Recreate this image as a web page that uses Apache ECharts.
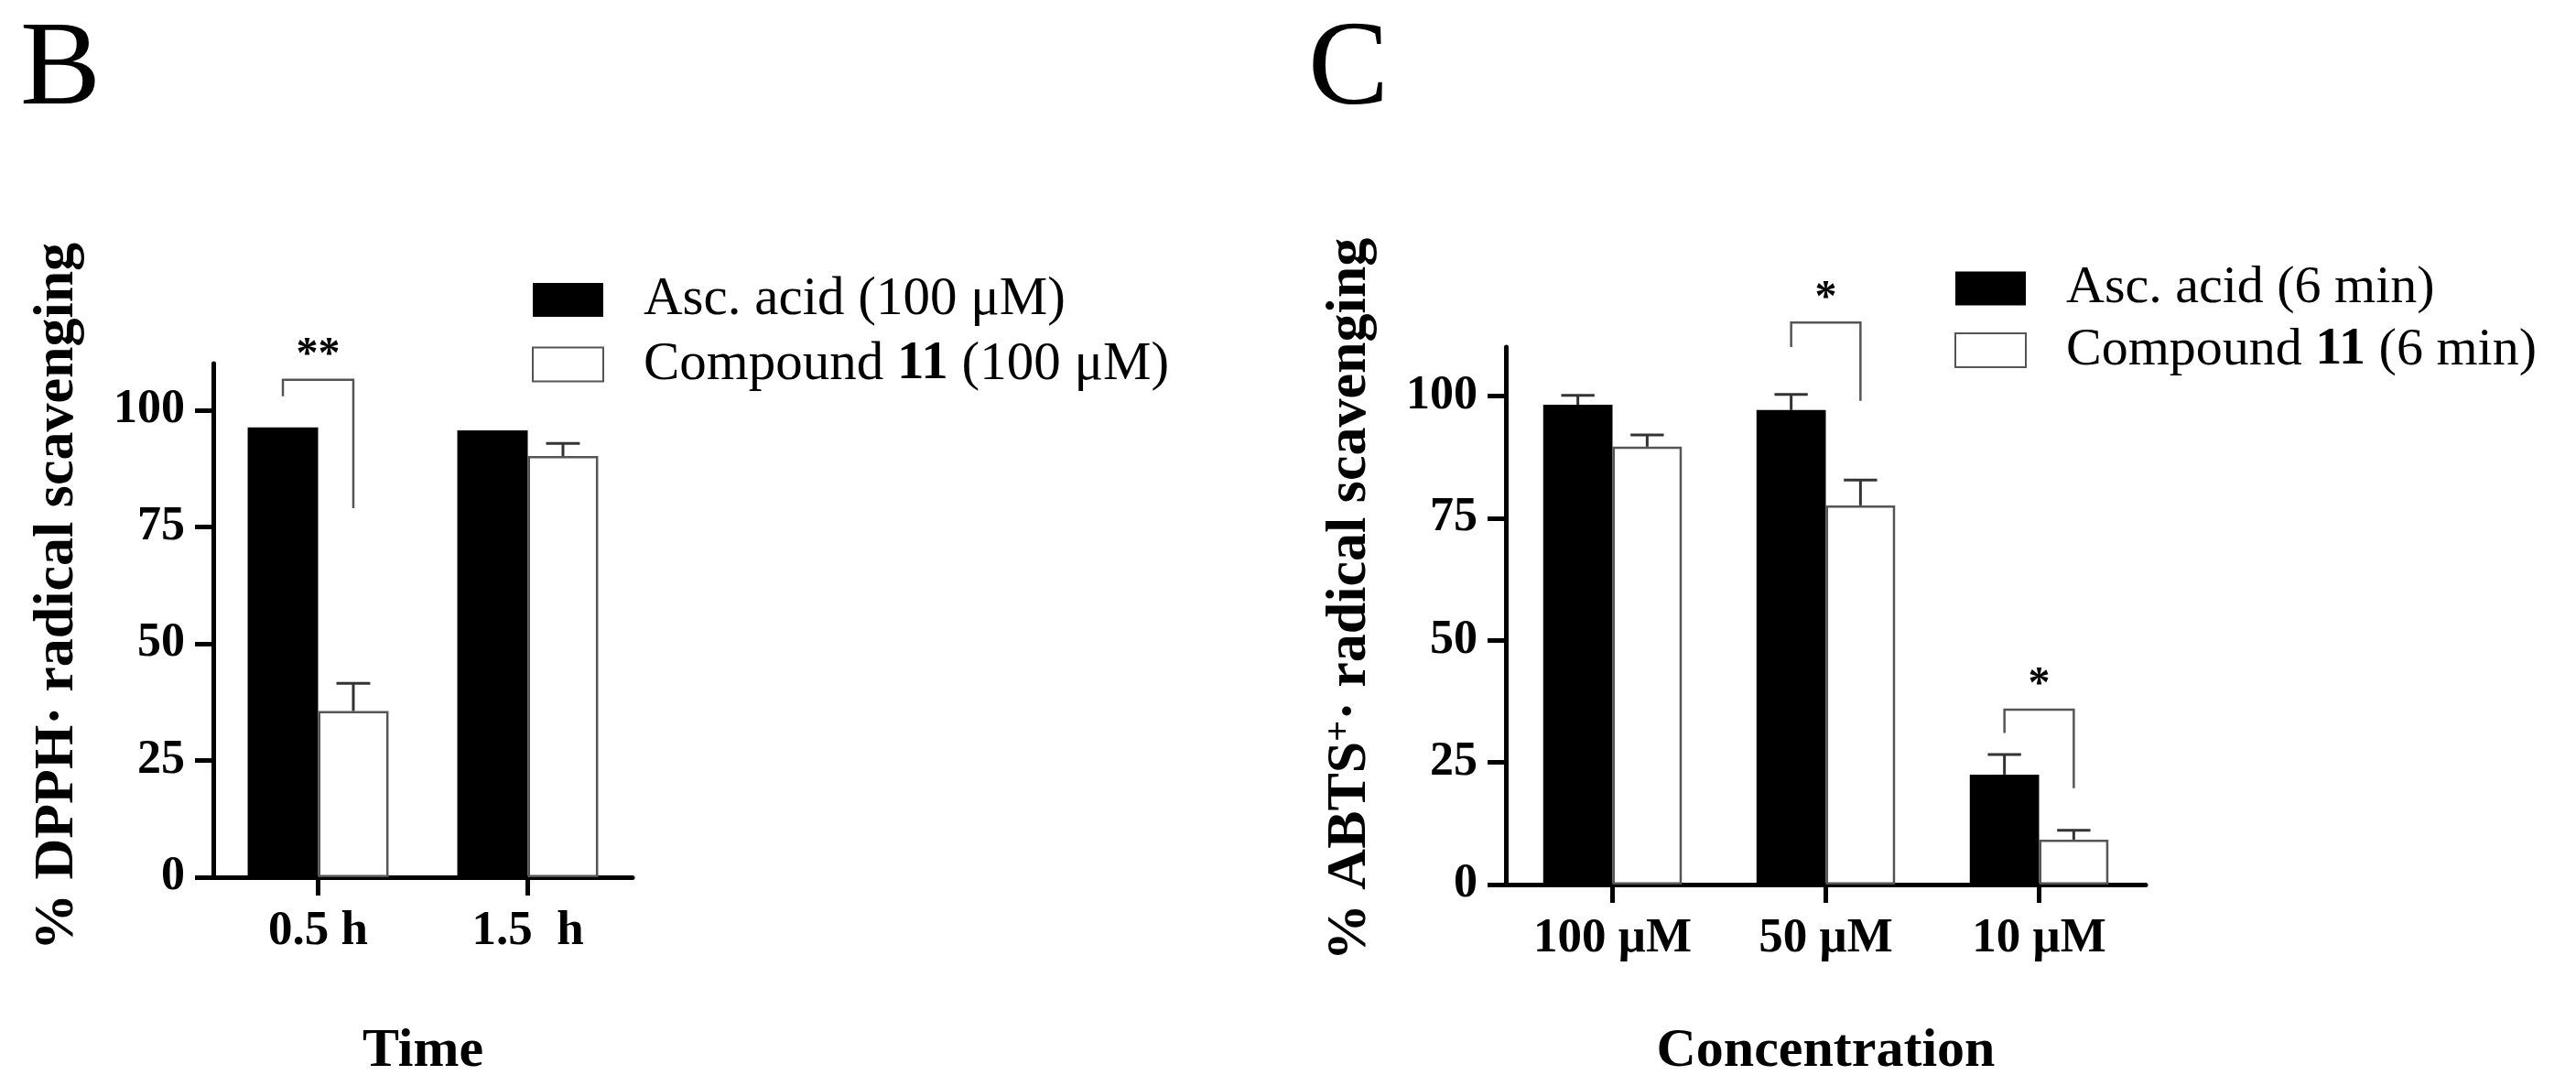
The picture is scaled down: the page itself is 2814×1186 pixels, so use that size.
<!DOCTYPE html>
<html lang="en">

<head>
  <meta charset="UTF-8">
  <meta name="viewport" content="width=device-width, initial-scale=1.0">
  <title>DPPH and ABTS radical scavenging</title>
  <script src="https://cdn.jsdelivr.net/npm/echarts@6.0.0/dist/echarts.min.js"></script>
</head>

<body style="margin: 0;padding: 0;">
  <div id="main" style="width: 100vw;height: 100vh;"></div>
  <script>
    // panel B: DPPH
    var catsB = ['0.5 h', '1.5  h'];
    var namesB = ['Asc. acid (100 μM)', 'Compound 11 (100 μM)'];
    var ascB = [96.3, 95.7];
    var ascBErr = [0, 0];
    var cmpB = [35.6, 90.2];
    var cmpBErr = [5.9, 2.7];
    // [category, bracket top, left leg end, right leg end, mark]
    var bracketsB = [[0, 106.5, 103, 79, '**']];

    // panel C: ABTS
    var catsC = ['100 μM', '50 μM', '10 μM'];
    var namesC = ['Asc. acid (6 min)', 'Compound 11 (6 min)'];
    var ascC = [98.2, 97.1, 22.5];
    var ascCErr = [1.9, 3.2, 4.1];
    var cmpC = [89.6, 77.6, 9.2];
    var cmpCErr = [2.4, 5.2, 1.9];
    var bracketsC = [[1, 115, 110, 99, '*'], [2, 35.8, 31, 19.7, '*']];

    var yTicks = [0, 25, 50, 75, 100];

    var FONT = '"Liberation Serif", "Times New Roman", serif';
    var chartDom = document.getElementById('main');
    var myChart = echarts.init(chartDom);
    var option;

    var axisLine = { show: true, lineStyle: { color: '#000', width: 5 } };
    var axisTick = { show: true, length: 20, lineStyle: { color: '#000', width: 5 } };
    var boldText = { color: '#000', fontFamily: FONT, fontWeight: 'bold' };

    function errData(asc, ascErr, cmp, cmpErr) {
      var out = [];
      asc.forEach(function (v, i) { out.push([i, v, ascErr[i], -1]); });
      cmp.forEach(function (v, i) { out.push([i, v, cmpErr[i], 1]); });
      return out;
    }

    function errRender(barFrac) {
      return function (params, api) {
        var cat = api.value(0), v = api.value(1), e = api.value(2), side = api.value(3);
        if (!e) return;
        var bw = api.size([1, 0])[0] * barFrac;
        var p0 = api.coord([cat, v]);
        var p1 = api.coord([cat, v + e]);
        var x = p0[0] + side * bw / 2;
        var cap = bw * 0.24;
        var st = { stroke: '#333', lineWidth: 3 };
        return {
          type: 'group',
          children: [
            { type: 'line', shape: { x1: x, y1: p0[1], x2: x, y2: p1[1] }, style: st },
            { type: 'line', shape: { x1: x - cap, y1: p1[1], x2: x + cap, y2: p1[1] }, style: st }
          ]
        };
      };
    }

    function bracketRender(barFrac, list) {
      return function (params, api) {
        var cat = api.value(0);
        var bw = api.size([1, 0])[0] * barFrac;
        var pt = api.coord([cat, api.value(1)]);
        var yl = api.coord([cat, api.value(2)])[1];
        var yr = api.coord([cat, api.value(3)])[1];
        var x1 = pt[0] - bw / 2, x2 = pt[0] + bw / 2;
        return {
          type: 'group',
          children: [
            {
              type: 'polyline',
              shape: { points: [[x1, yl], [x1, pt[1]], [x2, pt[1]], [x2, yr]] },
              style: { stroke: '#555', lineWidth: 2.5, fill: null }
            },
            {
              type: 'text',
              style: {
                x: (x1 + x2) / 2, y: pt[1] - 2,
                text: list[params.dataIndex][4],
                font: 'bold 48px ' + FONT,
                fill: '#000', align: 'center', verticalAlign: 'bottom'
              }
            }
          ]
        };
      };
    }

    function legendFmt(name) {
      return '{n|' + name.replace(' 11 ', ' }{b|11}{n| ') + '}';
    }

    function legendCfg(names, left, top, gap, size) {
      return {
        data: names,
        orient: 'vertical',
        left: left,
        top: top,
        padding: 0,
        itemWidth: 77,
        itemHeight: 37,
        itemGap: gap,
        icon: 'rect',
        selectedMode: false,
        formatter: legendFmt,
        textStyle: {
          color: '#000', fontFamily: FONT, fontSize: size, lineHeight: size,
          padding: [0, 0, 0, 39],
          rich: {
            n: { color: '#000', fontFamily: FONT, fontSize: size, lineHeight: size },
            b: { color: '#000', fontFamily: FONT, fontSize: size, lineHeight: size, fontWeight: 'bold' }
          }
        }
      };
    }

    var barFracB = 0.336, barFracC = 0.325;

    option = {
      animation: false,
      backgroundColor: '#fff',
      title: [
        { text: 'B', left: 22, top: 12, padding: 0, textStyle: { fontFamily: FONT, fontWeight: 'normal', fontSize: 132, color: '#000' } },
        { text: 'C', left: 1429, top: 12, padding: 0, textStyle: { fontFamily: FONT, fontWeight: 'normal', fontSize: 132, color: '#000' } }
      ],
      legend: [
        legendCfg(namesB, 581, 298, 11.5, 59),
        legendCfg(namesC, 2135, 286, 9.5, 58)
      ],
      grid: [
        { left: 233, top: 397, width: 458, height: 561 },
        { left: 1645, top: 379, width: 699, height: 587 }
      ],
      xAxis: [
        {
          gridIndex: 0, type: 'category', data: catsB,
          axisLine: axisLine, axisTick: Object.assign({ alignWithLabel: true }, axisTick),
          axisLabel: Object.assign({ fontSize: 53, margin: 33 }, boldText),
          name: 'Time', nameLocation: 'middle', nameGap: 160,
          nameTextStyle: Object.assign({ fontSize: 60 }, boldText)
        },
        {
          gridIndex: 1, type: 'category', data: catsC,
          axisLine: axisLine, axisTick: Object.assign({ alignWithLabel: true }, axisTick),
          axisLabel: Object.assign({ fontSize: 53, margin: 33 }, boldText),
          name: 'Concentration', nameLocation: 'middle', nameGap: 152,
          nameTextStyle: Object.assign({ fontSize: 60 }, boldText)
        }
      ],
      yAxis: [
        {
          gridIndex: 0, type: 'value', min: 0, max: 110, interval: 25,
          axisLine: axisLine,
          axisTick: Object.assign({ customValues: yTicks }, axisTick),
          axisLabel: Object.assign({ fontSize: 52, margin: 31, customValues: yTicks }, boldText),
          splitLine: { show: false },
          name: '% DPPH· radical scavenging', nameLocation: 'middle', nameGap: 139,
          nameTextStyle: Object.assign({ fontSize: 62, padding: [0, 0, 0, 52] }, boldText)
        },
        {
          gridIndex: 1, type: 'value', min: 0, max: 110, interval: 25,
          axisLine: axisLine,
          axisTick: Object.assign({ customValues: yTicks }, axisTick),
          axisLabel: Object.assign({ fontSize: 52, margin: 31, customValues: yTicks }, boldText),
          splitLine: { show: false },
          name: '{n|% ABTS}{s|+}{n|· radical scavenging}', nameLocation: 'middle', nameGap: 139,
          nameTextStyle: Object.assign({
            fontSize: 62, padding: [0, 0, 0, 36],
            rich: {
              n: { fontSize: 62, lineHeight: 62, fontFamily: FONT, fontWeight: 'bold', color: '#000' },
              s: { fontSize: 40, lineHeight: 40, fontFamily: FONT, fontWeight: 'bold', color: '#000', verticalAlign: 'top' }
            }
          }, boldText)
        }
      ],
      series: [
        {
          name: namesB[0], type: 'bar', xAxisIndex: 0, yAxisIndex: 0, data: ascB,
          barWidth: (barFracB * 100) + '%', barGap: '0%',
          itemStyle: { color: '#000' }
        },
        {
          name: namesB[1], type: 'bar', xAxisIndex: 0, yAxisIndex: 0, data: cmpB,
          barWidth: (barFracB * 100) + '%', barGap: '0%',
          itemStyle: { color: '#fff', borderColor: '#555', borderWidth: 2.5 }
        },
        {
          type: 'custom', xAxisIndex: 0, yAxisIndex: 0, z: 5,
          data: errData(ascB, ascBErr, cmpB, cmpBErr),
          encode: { x: 0, y: 1 },
          renderItem: errRender(barFracB)
        },
        {
          type: 'custom', xAxisIndex: 0, yAxisIndex: 0, z: 5,
          data: bracketsB.map(function (b) { return b.slice(0, 4); }),
          encode: { x: 0, y: 1 },
          renderItem: bracketRender(barFracB, bracketsB)
        },
        {
          name: namesC[0], type: 'bar', xAxisIndex: 1, yAxisIndex: 1, data: ascC,
          barWidth: (barFracC * 100) + '%', barGap: '0%',
          itemStyle: { color: '#000' }
        },
        {
          name: namesC[1], type: 'bar', xAxisIndex: 1, yAxisIndex: 1, data: cmpC,
          barWidth: (barFracC * 100) + '%', barGap: '0%',
          itemStyle: { color: '#fff', borderColor: '#555', borderWidth: 2.5 }
        },
        {
          type: 'custom', xAxisIndex: 1, yAxisIndex: 1, z: 5,
          data: errData(ascC, ascCErr, cmpC, cmpCErr),
          encode: { x: 0, y: 1 },
          renderItem: errRender(barFracC)
        },
        {
          type: 'custom', xAxisIndex: 1, yAxisIndex: 1, z: 5,
          data: bracketsC.map(function (b) { return b.slice(0, 4); }),
          encode: { x: 0, y: 1 },
          renderItem: bracketRender(barFracC, bracketsC)
        }
      ]
    };

    option && myChart.setOption(option);
  </script>
</body>

</html>
